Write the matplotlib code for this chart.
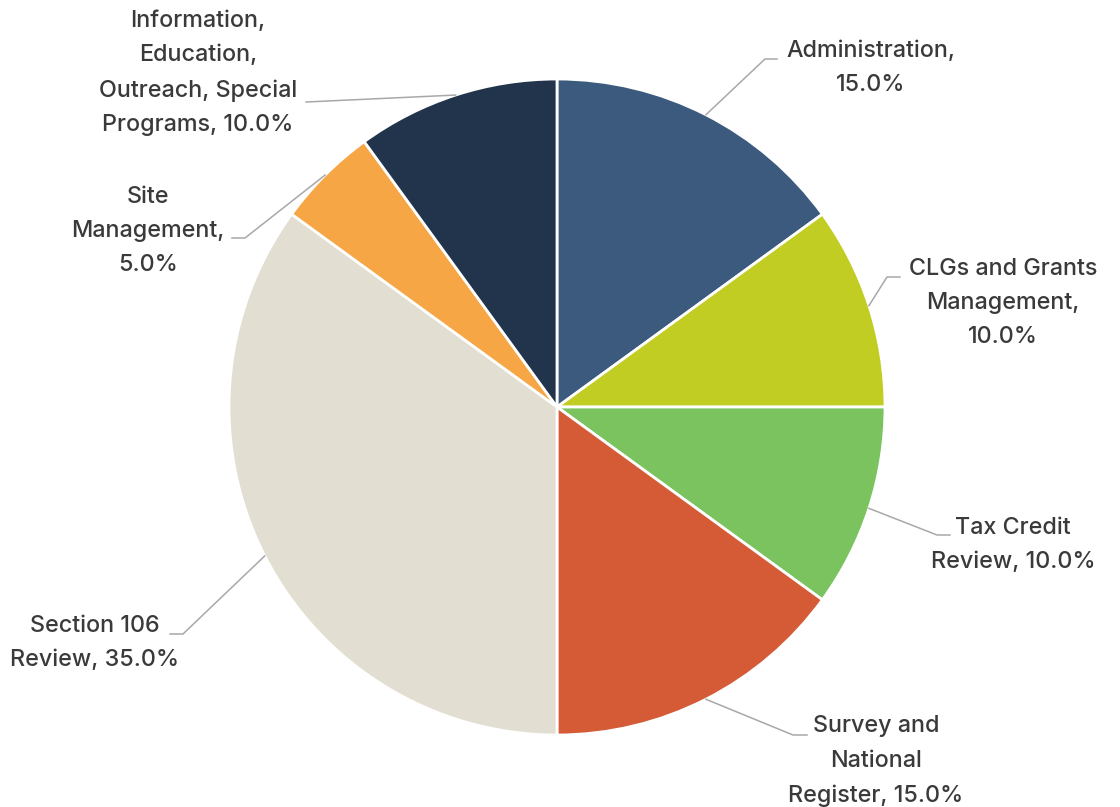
import matplotlib
matplotlib.use("Agg")
import matplotlib.pyplot as plt
import numpy as np

# ---- data ----
categories = ["Administration", "CLGs and Grants Management", "Tax Credit Review",
              "Survey and National Register", "Section 106 Review", "Site Management",
              "Information, Education, Outreach, Special Programs"]
values = [15.0, 10.0, 10.0, 15.0, 35.0, 5.0, 10.0]
label_names = ["Administration,", "CLGs and Grants\nManagement,", "Tax Credit\nReview,",
               "Survey and\nNational\nRegister,", "Section 106\nReview,", "Site\nManagement,",
               "Information,\nEducation,\nOutreach, Special\nPrograms,"]
label_seps = ["\n", "\n", " ", " ", " ", "\n", " "]
colors = ["#3B5A7D", "#C2CD23", "#7BC35F", "#D45B35", "#E2DED2", "#F6A645", "#22344C"]

# ---- layout (pixels) ----
W, H = 1120, 807
CX, CY, R = 557, 407, 328
def p2d(px, py):
    return (px - CX) / R, (CY - py) / R

text_pos = [(871, 68), (1003, 303), (1013, 545), (876, 761), (95, 643), (148, 231), (198, 73)]
elbows = [(765, 59), (887, 277), (937, 535), (793, 735), (183, 634), (245, 238), (306, 102)]
ends = [(777, 59), (900, 277), (950, 535), (807, 735), (170, 634), (232, 238), (306, 102)]

plt.rcParams['font.family'] = ['Inter', 'DejaVu Sans']
fig = plt.figure(figsize=(W / 100, H / 100), dpi=100)
ax = fig.add_axes([0, 0, 1, 1])

wedges, _ = ax.pie(values, colors=colors, startangle=90, counterclock=False,
                   radius=1.0, center=(0, 0), frame=True,
                   wedgeprops=dict(edgecolor='white', linewidth=2.0))
ax.set_xlim(-CX / R, (W - CX) / R)
ax.set_ylim(-(H - CY) / R, CY / R)
ax.set_aspect('auto')
ax.axis('off')

for i, w in enumerate(wedges):
    ang = np.deg2rad((w.theta1 + w.theta2) / 2)
    x0, y0 = np.cos(ang), np.sin(ang)
    ex, ey = p2d(*elbows[i])
    nx, ny = p2d(*ends[i])
    ax.plot([x0, ex, nx], [y0, ey, ny], color='#A8A8A8', lw=1.1, zorder=3)
    tx, ty = p2d(*text_pos[i])
    ax.text(tx, ty, f"{label_names[i]}{label_seps[i]}{values[i]:.1f}%",
            ha='center', va='center', fontsize=16.8, fontweight='medium',
            color='#3A3A3A', linespacing=1.72)

fig.savefig("out.png", dpi=100, facecolor='white')
